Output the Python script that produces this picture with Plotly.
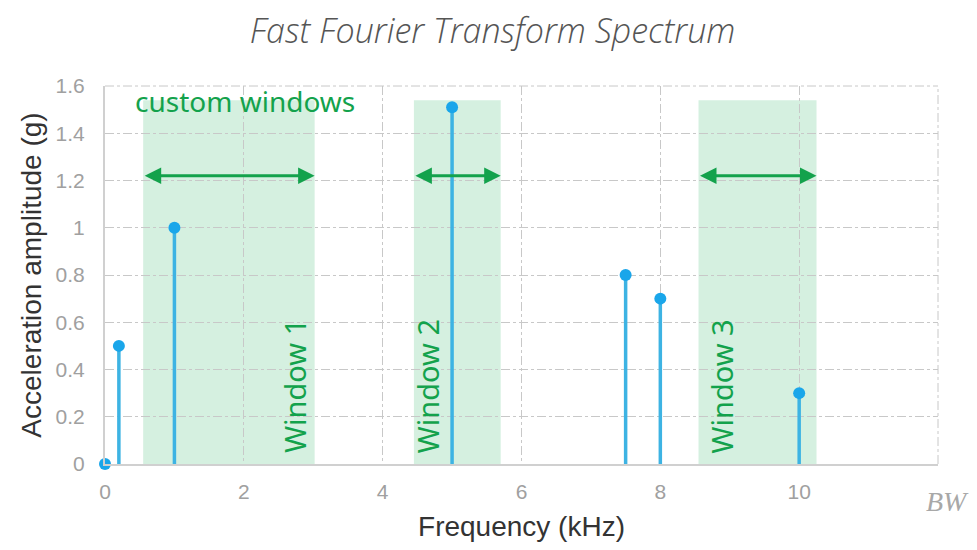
import plotly.graph_objects as go

# Data
freq_khz = [0, 0.2, 1, 5, 7.5, 8, 10]
amplitude_g = [0, 0.5, 1.0, 1.51, 0.8, 0.7, 0.3]

win_start = [0.55, 4.45, 8.55]
win_end = [3.02, 5.7, 10.25]
win_top = 1.54
win_labels = ["Window 1", "Window 2", "Window 3"]
win_label_x = [2.72, 4.64, 8.88]
win_label_y = 0.33
arrow_y = 1.22

x_ticks = [0, 2, 4, 6, 8, 10]
y_ticks = [0, 0.2, 0.4, 0.6, 0.8, 1, 1.2, 1.4, 1.6]

GREEN = "#13a24c"
BLUE_LINE = "#3db3e3"
BLUE_MARK = "#1aa6ea"
FILL = "#d5f0e0"
GRID = "#c8c8c8"

fig = go.Figure()

# Window shaded rectangles
for s, e in zip(win_start, win_end):
    fig.add_shape(type="rect", xref="x", yref="y", x0=s, x1=e, y0=0, y1=win_top,
                  fillcolor=FILL, line=dict(width=0), layer="below")

# Stems
sx, sy = [], []
for f, a in zip(freq_khz, amplitude_g):
    sx += [f, f, None]
    sy += [0, a, None]
fig.add_trace(go.Scatter(x=sx, y=sy, mode="lines",
                         line=dict(color=BLUE_LINE, width=3.5),
                         hoverinfo="skip", showlegend=False))
fig.add_trace(go.Scatter(x=freq_khz, y=amplitude_g, mode="markers",
                         marker=dict(color=BLUE_MARK, size=12),
                         showlegend=False, cliponaxis=False))

# Double-headed arrows
for s, e in zip(win_start, win_end):
    fig.add_annotation(x=e, y=arrow_y, ax=s, ay=arrow_y, xref="x", yref="y",
                       axref="x", ayref="y", text="", showarrow=True,
                       arrowhead=2, startarrowhead=2, arrowside="end+start",
                       arrowsize=1.1, startarrowsize=1.1, arrowwidth=3,
                       arrowcolor=GREEN, standoff=0, startstandoff=0)

# Window labels
for lx, lab in zip(win_label_x, win_labels):
    fig.add_annotation(x=lx, y=win_label_y, xref="x", yref="y", text=lab,
                       showarrow=False, textangle=-90,
                       font=dict(family="Noto Sans", size=29, color=GREEN))

fig.add_annotation(x=2.02, y=1.535, xref="x", yref="y", text="custom windows",
                   showarrow=False, xanchor="center", yanchor="middle",
                   font=dict(family="Noto Sans", size=28, color=GREEN))

fig.add_annotation(x=1.012, y=-0.10, xref="paper", yref="paper", text="<i>BW</i>",
                   showarrow=False, xanchor="center", yanchor="middle",
                   font=dict(family="Liberation Serif", size=28, color="#a8a8a8"))

fig.update_layout(
    width=969, height=542,
    margin=dict(l=97, r=39, t=78, b=86),
    paper_bgcolor="white", plot_bgcolor="white",
    title=dict(text="<i>Fast Fourier Transform Spectrum</i>", x=0.5, xanchor="center",
               yref="container", y=0.958, yanchor="middle",
               font=dict(family="Open Sans", size=34, color="#555555", weight=300)),
    xaxis=dict(range=[0, 12], tickvals=x_ticks, showgrid=True, gridcolor=GRID,
               griddash="dashdot", gridwidth=1, zeroline=False,
               showline=True, linecolor="#d0d0d0", linewidth=2, mirror=False,
               ticks="", ticklabelstandoff=8,
               tickfont=dict(family="Liberation Sans", size=21, color="#a0a0a0"),
               title=dict(text="Frequency (kHz)", standoff=14,
                          font=dict(family="Liberation Sans", size=28, color="#333333"))),
    yaxis=dict(range=[0, 1.6], tickvals=y_ticks, showgrid=True, gridcolor=GRID,
               griddash="dashdot", gridwidth=1, zeroline=False,
               showline=True, linecolor="#d0d0d0", linewidth=2,
               ticks="", ticklabelstandoff=14,
               tickfont=dict(family="Liberation Sans", size=21, color="#a0a0a0"),
               title=dict(text="Acceleration amplitude (g)", standoff=6,
                          font=dict(family="Liberation Sans", size=28, color="#333333"))),
)

# right and top dashed borders
fig.add_shape(type="line", xref="paper", yref="paper", x0=1, x1=1, y0=0, y1=1,
              line=dict(color=GRID, width=1, dash="dashdot"), layer="below")
fig.add_shape(type="line", xref="paper", yref="paper", x0=0, x1=1, y0=1, y1=1,
              line=dict(color=GRID, width=1, dash="dashdot"), layer="below")

fig.write_html("out.html")
